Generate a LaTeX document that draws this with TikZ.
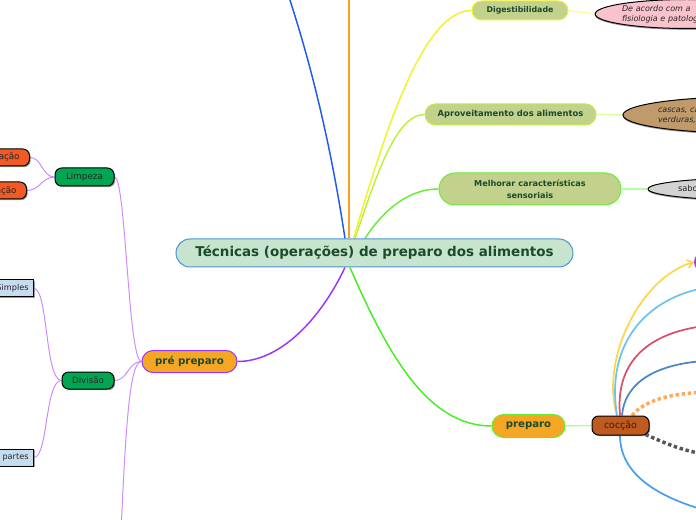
\documentclass[tikz,border=0pt]{standalone}
\usepackage{fontspec}
\setmainfont{DejaVu Sans}
\usetikzlibrary{shapes.geometric,shadows,arrows.meta,calc,backgrounds}
\definecolor{cenfill}{HTML}{C6E4CE}
\definecolor{cenline}{HTML}{4A93D6}
\definecolor{txtgreen}{HTML}{1C4A2C}
\definecolor{olivefill}{HTML}{C2D18C}
\definecolor{orfill}{HTML}{F5A623}
\definecolor{cocfill}{HTML}{C05A1E}
\definecolor{grnfill}{HTML}{00A651}
\definecolor{redfill}{HTML}{F15A24}
\definecolor{bluefill}{HTML}{C6DDF0}
\definecolor{pinkfill}{HTML}{F9C2CC}
\definecolor{brownfill}{HTML}{BF9A6A}
\definecolor{grayfill}{HTML}{D3D3D3}
\definecolor{lnblue}{HTML}{1F5AF0}
\definecolor{lnorange}{HTML}{FF9F1C}
\definecolor{lnyellow}{HTML}{F2F22A}
\definecolor{lnlime}{HTML}{BDF03A}
\definecolor{lngreen}{HTML}{66EE33}
\definecolor{lngreen2}{HTML}{44EE22}
\definecolor{lnpurple}{HTML}{9933FF}
\definecolor{lnlilac}{HTML}{CC8CFF}
\definecolor{lnpaleyellow}{HTML}{FFFF99}
\definecolor{lnpalelime}{HTML}{DDFFA0}
\definecolor{lnpalegreen}{HTML}{B0FFA0}
\definecolor{cyellow}{HTML}{FFD54F}
\definecolor{clblue}{HTML}{6CC3EE}
\definecolor{cred}{HTML}{D9506A}
\definecolor{csteel}{HTML}{4A86C8}
\definecolor{corange}{HTML}{FFAA5A}
\definecolor{cgray}{HTML}{555555}
\definecolor{cblue}{HTML}{4A9EF0}
\definecolor{magline}{HTML}{CC33CC}
\begin{document}
\begin{tikzpicture}[x=0.75pt,y=-0.75pt,
  pill/.style={rectangle, line width=0.75pt, inner sep=0pt, align=center, text=txtgreen},
  blackbox/.style={rectangle, draw=black, line width=0.75pt, inner sep=0pt, text=black!85,
     drop shadow={shadow xshift=0.9pt, shadow yshift=-0.9pt, fill=black!55, opacity=0.7}},
  bubble/.style={ellipse, draw=black, line width=0.75pt, inner sep=0pt, align=left, text=black!85,
     drop shadow={shadow xshift=0pt, shadow yshift=-1pt, fill=black!55, opacity=0.7}},
  branch/.style={line width=1.1pt},
  twig/.style={line width=0.75pt},
  cline/.style={line width=1.3pt}]
\useasboundingbox (0,0) rectangle (696,520);
\clip (0,0) rectangle (696,520);

% nodes
\node[pill, draw=cenline, fill=cenfill, minimum width=297.75pt, minimum height=21pt, rounded corners=10.5pt,
  font=\fontsize{10.1}{12}\selectfont\bfseries] (center) at (374.5,253) {Técnicas (operações) de preparo dos alimentos};

\node[pill, draw=lnyellow, fill=olivefill, minimum width=72pt, minimum height=14.25pt, rounded corners=7.1pt,
  font=\fontsize{5.9}{7}\selectfont\bfseries] (dig) at (520,10.5) {Digestibilidade};
\node[pill, draw=lnlime, fill=olivefill, minimum width=128.25pt, minimum height=15.75pt, rounded corners=7.9pt,
  font=\fontsize{6.3}{7}\selectfont\bfseries] (aprov) at (510.5,114.5) {Aproveitamento dos alimentos};
\node[pill, draw=lngreen, fill=olivefill, minimum width=136.5pt, minimum height=24pt, rounded corners=12pt,
  font=\fontsize{6.1}{9}\selectfont\bfseries] (melh) at (530,189) {Melhorar características\\sensoriais};

\node[bubble, fill=pinkfill, text width=97.5pt, minimum height=21.75pt,
  font=\fontsize{6}{7.4}\selectfont\itshape] (pink) at (687,14) {De acordo com a\\fisiologia e patologia};
\node[bubble, fill=brownfill, text width=126.75pt, minimum height=27pt,
  font=\fontsize{6}{7.4}\selectfont\itshape] (brown) at (742.5,115) {cascas, caules e\\verduras, frutas};
\node[bubble, fill=grayfill, text width=108.75pt, minimum height=16.5pt,
  font=\fontsize{6.2}{7.4}\selectfont] (gray) at (750.5,189) {sabor, cor e textura};

\node[pill, draw=lngreen, fill=orfill, minimum width=54.75pt, minimum height=17.25pt, rounded corners=8.6pt,
  font=\fontsize{7.6}{9}\selectfont\bfseries] (prep) at (528.5,426) {preparo};
\node[blackbox, fill=cocfill, minimum width=42.75pt, minimum height=14.25pt, rounded corners=5pt,
  font=\fontsize{7.1}{8}\selectfont] (cocc) at (620.5,425.5) {cocção};
\node[pill, draw=magline, fill=grnfill, minimum width=30pt, minimum height=15pt, rounded corners=7.5pt,
  anchor=west] (cnext) at (694,262) {};

\node[pill, draw=lnpurple, fill=orfill, minimum width=71.25pt, minimum height=16.5pt, rounded corners=8.25pt,
  font=\fontsize{7.7}{9}\selectfont\bfseries] (pre) at (189.5,361.5) {pré preparo};

\node[blackbox, fill=grnfill, minimum width=44.25pt, minimum height=13.5pt, rounded corners=5pt,
  font=\fontsize{6.6}{8}\selectfont] (limp) at (84.5,177) {Limpeza};
\node[blackbox, fill=grnfill, minimum width=39pt, minimum height=12.75pt, rounded corners=5pt,
  font=\fontsize{6.5}{8}\selectfont] (div) at (88,380.5) {Divisão};

\node[blackbox, fill=redfill, minimum height=12.75pt, inner xsep=7.5pt, rounded corners=5pt, anchor=east,
  font=\fontsize{6.5}{8}\selectfont] (hig) at (30,157.5) {Higienização};
\node[blackbox, fill=redfill, minimum height=12.75pt, inner xsep=7.5pt, rounded corners=5pt, anchor=east,
  font=\fontsize{6.5}{8}\selectfont] (san) at (27,190.5) {Sanitização};

\node[blackbox, fill=bluefill, minimum height=12.75pt, inner xsep=3.75pt, anchor=east,
  font=\fontsize{6.1}{8}\selectfont] (simp) at (34,288.5) {Divisão Simples};
\node[blackbox, fill=bluefill, minimum height=12.75pt, inner xsep=3.75pt, anchor=east,
  font=\fontsize{6.1}{8}\selectfont] (part) at (34,457.5) {Divisão em partes};

% off-picture ends
\coordinate (topA) at (286,-12);
\coordinate (topB) at (349,-12);
\coordinate (preDown) at (121,532);
\coordinate (cA) at (704,288);
\coordinate (cB) at (704,326);
\coordinate (cC) at (704,361);
\coordinate (cD) at (704,392);
\coordinate (cE) at (704,454);
\coordinate (cF) at (704,510);

\begin{scope}[on background layer]
\draw[branch, lnblue] ($(center.north)+(-29.5,0)$) .. controls (330,140) and (310,60) .. (topA);
\draw[branch, lnorange] ($(center.north)+(-25.5,0)$) -- (topB);
\draw[branch, lnyellow] ($(center.north)+(-21,0)$) .. controls (380,150) and (420,10) .. (dig.west);
\draw[branch, lnlime] ($(center.north)+(-19.5,0)$) .. controls (375,180) and (395,114.5) .. (aprov.west);
\draw[branch, lngreen] ($(center.north)+(-9.5,0)$) .. controls (380,215) and (405,189) .. (melh.west);
\draw[branch, lnpurple] ($(center.south)+(-29.5,0)$) .. controls (320,320) and (280,361.5) .. (pre.east);
\draw[branch, lngreen2] ($(center.south)+(-24.5,0)$) .. controls (390,360) and (430,426) .. (prep.west);

\draw[branch, lnpaleyellow] (dig.east) -- (pink.west);
\draw[branch, lnpalelime] (aprov.east) -- (brown.west);
\draw[branch, lnpalegreen] (melh.east) -- (gray.west);
\draw[branch, lnpalegreen] (prep.east) -- (cocc.west);

\draw[twig, lnlilac] (pre.west) .. controls (128,361.5) and (126,177) .. (limp.east);
\draw[twig, lnlilac] (pre.west) .. controls (128,361.5) and (128,380.5) .. (div.east);
\draw[twig, lnlilac] (pre.west) .. controls (130,361.5) and (126,420) .. (preDown);
\draw[twig, lnlilac] (limp.west) .. controls (42,177) and (42,157.5) .. (hig.east);
\draw[twig, lnlilac] (limp.west) .. controls (42,177) and (40,190.5) .. (san.east);
\draw[twig, lnlilac] (div.west) .. controls (45,380.5) and (48,288.5) .. (simp.east);
\draw[twig, lnlilac] (div.west) .. controls (45,380.5) and (48,457.5) .. (part.east);

\draw[cline, cyellow, -{Straight Barb[length=4pt,width=6pt]}] ($(cocc.north)+(-3.5,0)$) .. controls (600,360) and (640,278) .. (cnext.west);
\draw[cline, clblue] ($(cocc.north)+(-3.5,0)$) .. controls (605,340) and (650,298) .. (cA);
\draw[cline, cred] ($(cocc.north)+(-0.5,0)$) .. controls (615,360) and (650,333) .. (cB);
\draw[cline, csteel] ($(cocc.north)+(1.5,0)$) .. controls (625,380) and (660,364) .. (cC);
\draw[line width=2.6pt, corange, dotted] ($(cocc.north)+(11.5,0)$) .. controls (645,400) and (670,394) .. (cD);
\draw[line width=2.6pt, cgray, dotted] ($(cocc.south east)+(-4,-1)$) .. controls (665,443) and (680,450) .. (cE);
\draw[cline, cblue] ($(cocc.south)+(-0.5,0)$) .. controls (620,480) and (670,500) .. (cF);
\end{scope}
\end{tikzpicture}
\end{document}
